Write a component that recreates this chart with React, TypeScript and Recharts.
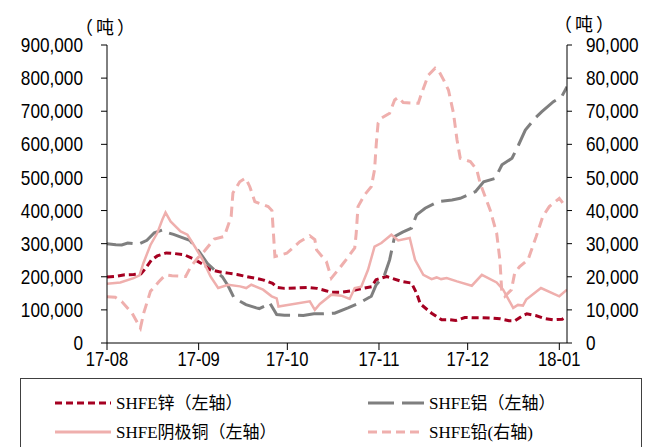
import React from "react";
import { LineChart, Line, XAxis, YAxis } from "recharts";

// x = days since 2017-08-01
const monthStarts = [0, 31, 61, 92, 122, 153];
const monthLabels = ["17-08", "17-09", "17-10", "17-11", "17-12", "18-01"];

const leftTicks = [0, 100000, 200000, 300000, 400000, 500000, 600000, 700000, 800000, 900000];
const rightTicks = [0, 10000, 20000, 30000, 40000, 50000, 60000, 70000, 80000, 90000];

// SHFE zinc, tons (left axis)
const zinc: [number, number][] = [
  [0, 199000], [3, 201000], [6, 206000], [9, 207000], [11.5, 209000], [13, 225000],
  [15, 250000], [17, 263000], [20, 272000], [23, 270000], [26, 267000], [29, 255000],
  [31, 245000], [33, 235000], [35, 221000], [38, 215000], [41, 211000], [44, 207000],
  [47, 201000], [50, 196000], [53, 190000], [56, 180000], [57.5, 168000], [60, 165000],
  [64, 166000], [68, 168000], [71, 165000], [74, 158000], [76, 153000], [79, 153000],
  [83, 158000], [87, 166000], [89.5, 170000], [91, 191000], [94.5, 201000], [99.6, 186000],
  [103, 181000], [104.7, 151000], [106, 118000], [109.8, 90000], [113.2, 70000], [116, 70000],
  [118, 68000], [121, 77000], [124, 76000], [127, 76000], [130, 75000], [133, 73000],
  [136, 67000], [138, 67000], [140.5, 82000], [142, 88000], [145, 83000], [148, 74000],
  [151, 70000], [154, 72000], [155.6, 80000],
];

// SHFE aluminium, tons (left axis)
const aluminium: [number, number][] = [
  [0, 300000], [3, 297000], [5, 296000], [7, 302000], [9, 300000], [10.5, 298000],
  [13.5, 310000], [16, 333000], [19, 342000], [21, 332000], [22.5, 328000], [25, 320000],
  [28, 310000], [31, 278000], [34, 240000], [37, 215000], [39, 200000], [41, 172000],
  [43, 136000], [47, 116000], [50.5, 106000], [51.5, 104000], [53.5, 112000], [55, 122000],
  [57.4, 86000], [60, 84000], [64, 84000], [66.4, 83000], [70, 88000], [73, 88000],
  [77, 90000], [81.5, 106000], [85.4, 121000], [89.4, 141000], [91, 175000], [93.9, 206000],
  [95.6, 251000], [97.3, 322000], [100, 335000], [103, 347000], [104.7, 387000], [107.6, 407000],
  [112, 427000], [116.7, 432000], [119.5, 437000], [124.6, 457000], [127.4, 487000], [131.3, 497000],
  [133.6, 538000], [137, 558000], [139.2, 598000], [141.5, 643000], [144.8, 679000], [147.1, 699000],
  [151, 729000], [153.8, 744000], [155.6, 774000],
];

// SHFE cathode copper, tons (left axis)
const copper: [number, number][] = [
  [0, 179000], [4.5, 183000], [9, 196000], [11, 204000], [12.3, 241000], [14.7, 296000],
  [17, 332000], [18.7, 372000], [19.8, 394000], [21.5, 367000], [24.9, 337000], [27.2, 327000],
  [30, 287000], [32.4, 251000], [35, 201000], [37.6, 166000], [41, 176000], [45, 171000],
  [47.1, 166000], [48.8, 176000], [52.8, 161000], [55.7, 141000], [57.4, 135000], [58, 110000],
  [68.6, 126000], [70.3, 100000], [72, 118000], [75.9, 146000], [79.3, 143000], [82.1, 133000],
  [83.8, 166000], [86, 170000], [88.3, 221000], [90.5, 291000], [92.8, 302000], [96.2, 327000],
  [98.5, 310000], [102.4, 317000], [104.2, 251000], [107, 206000], [109.8, 193000], [111.5, 198000],
  [113, 193000], [114.9, 196000], [118.4, 186000], [123.4, 173000], [126.8, 206000], [131.8, 183000],
  [134, 161000], [137.4, 106000], [139, 115000], [140.7, 113000], [141.8, 131000], [146.8, 166000],
  [153, 141000], [155.6, 161000],
];

// SHFE lead, tons (right axis)
const lead: [number, number][] = [
  [0, 14000], [2.8, 13800], [5, 12500], [8.5, 9000], [11.3, 4500], [12.4, 9000],
  [14.7, 15600], [17.6, 18600], [19.8, 20600], [22, 20300], [26.6, 20100], [28.3, 23000],
  [30.6, 25600], [32.9, 27700], [36.3, 31400], [39.7, 32200], [42, 38200], [42.6, 45300],
  [44.9, 48700], [46.9, 49800], [48.3, 47200], [50, 42700], [54.5, 41200], [55.8, 40000],
  [56.8, 26100], [60.8, 27100], [65.2, 30600], [68.6, 32400], [70.3, 31200], [70.9, 28100],
  [74.2, 24600], [75.9, 19600], [78.2, 22100], [80.4, 24600], [83.8, 28700], [84.3, 33200],
  [84.9, 41200], [87.1, 44700], [89.4, 47200], [90.5, 52300], [91.1, 60300], [91.7, 66400],
  [92.8, 67900], [95.6, 69400], [97.3, 73400], [98.5, 74200], [100.2, 72600], [105.3, 72400],
  [106.4, 75400], [108.7, 80900], [111, 83000], [112, 82500], [113.9, 79400], [115.5, 76400],
  [117.2, 69400], [118.4, 61300], [119.5, 55800], [122.9, 54800], [125.1, 52300], [126.2, 48300],
  [129.6, 40200], [131.8, 33200], [132.9, 25100], [133.5, 16100], [134.6, 14100], [136.8, 16100],
  [137.9, 21100], [139.6, 23100], [142.4, 25100], [145.2, 32200], [147.4, 38200], [149.6, 41200],
  [153, 43700], [154.7, 41700], [155.6, 42000],
];

const toRows = (pts: [number, number][]) => pts.map(([d, v]) => ({ d, v }));

const sans = "'Liberation Sans', Arial, sans-serif";
const serif = "'Liberation Serif', 'Times New Roman', 'Noto Sans CJK SC', serif";
const cjk = "'Noto Sans CJK SC', sans-serif";

const fmt = (v: number) => v.toLocaleString("en-US");
const monthFmt = (v: number) => monthLabels[monthStarts.indexOf(v)] ?? "";

// the original uses a narrow face; squeeze the regular one horizontally
const NarrowTick = (props: any) => {
  const { x, y, payload, textAnchor, format, dy, sx } = props;
  return (
    <g transform={`translate(${x},${y}) scale(${sx},1)`}>
      <text x={0} y={0} dy={dy} textAnchor={textAnchor} fontFamily={sans} fontSize={20} fill="#000">
        {format(payload.value)}
      </text>
    </g>
  );
};

const legendItems = [
  { label: "SHFE锌（左轴）", color: "#A50021", dash: "7 4", x: 55, y: 25 },
  { label: "SHFE铝（左轴）", color: "#7F7F7F", dash: "26 8", x: 368, y: 25 },
  { label: "SHFE阴极铜（左轴）", color: "#EFAFAD", dash: "", x: 55, y: 54 },
  { label: "SHFE铅(右轴)", color: "#EFAFAD", dash: "9 5", x: 368, y: 54 },
];

const unitStyle: React.CSSProperties = {
  position: "absolute",
  width: 60,
  textAlign: "center",
  fontFamily: cjk,
  fontSize: 18,
  letterSpacing: 3,
  lineHeight: "24px",
};

export default function App() {
  return (
    <div
      style={{
        position: "absolute",
        left: 0,
        top: 0,
        width: 661,
        height: 447,
        overflow: "hidden",
        background: "#fff",
      }}
    >
      <LineChart width={661} height={380} margin={{ top: 45, right: 0, bottom: 0, left: 0 }}>
        <XAxis
          xAxisId="x"
          type="number"
          dataKey="d"
          domain={[0, 155.6]}
          allowDataOverflow
          ticks={monthStarts}
          height={37}
          tickSize={7}
          tickMargin={2}
          tick={(p: any) => <NarrowTick {...p} format={monthFmt} dy="0.71em" sx={0.83} />}
          stroke="#000"
          interval={0}
        />
        <YAxis
          yAxisId="left"
          orientation="left"
          domain={[0, 900000]}
          ticks={leftTicks}
          width={107}
          tickSize={6}
          tickMargin={18}
          tick={(p: any) => <NarrowTick {...p} format={fmt} dy="0.355em" sx={0.86} />}
          stroke="#000"
          interval={0}
        />
        <YAxis
          yAxisId="right"
          orientation="right"
          domain={[0, 90000]}
          ticks={rightTicks}
          width={94}
          tickSize={5}
          tickMargin={14}
          tick={(p: any) => <NarrowTick {...p} format={fmt} dy="0.355em" sx={0.86} />}
          stroke="#000"
          interval={0}
        />
        <Line
          xAxisId="x"
          yAxisId="left"
          data={toRows(zinc)}
          dataKey="v"
          stroke="#A50021"
          strokeWidth={3}
          strokeDasharray="7 4"
          dot={false}
          isAnimationActive={false}
        />
        <Line
          xAxisId="x"
          yAxisId="left"
          data={toRows(aluminium)}
          dataKey="v"
          stroke="#7F7F7F"
          strokeWidth={3}
          strokeDasharray="26 8"
          dot={false}
          isAnimationActive={false}
        />
        <Line
          xAxisId="x"
          yAxisId="left"
          data={toRows(copper)}
          dataKey="v"
          stroke="#EFAFAD"
          strokeWidth={2.5}
          dot={false}
          isAnimationActive={false}
        />
        <Line
          xAxisId="x"
          yAxisId="right"
          data={toRows(lead)}
          dataKey="v"
          stroke="#EFAFAD"
          strokeWidth={3}
          strokeDasharray="10 6"
          dot={false}
          isAnimationActive={false}
        />
      </LineChart>

      <div style={{ ...unitStyle, left: 75, top: 14 }}>（吨）</div>
      <div style={{ ...unitStyle, left: 554, top: 11 }}>（吨）</div>

      <svg width={661} height={70} style={{ position: "absolute", left: 0, top: 378 }}>
        <rect x={20.5} y={0.5} width={621} height={80} fill="none" stroke="#404040" strokeWidth={1} />
        {legendItems.map((it) => (
          <g key={it.label}>
            <line
              x1={it.x}
              x2={it.x + 56}
              y1={it.y}
              y2={it.y}
              stroke={it.color}
              strokeWidth={3}
              strokeDasharray={it.dash || undefined}
            />
            <text x={it.x + 61} y={it.y} dy="0.35em" fontFamily={serif} fontSize={17} fill="#000">
              {it.label}
            </text>
          </g>
        ))}
      </svg>
    </div>
  );
}
